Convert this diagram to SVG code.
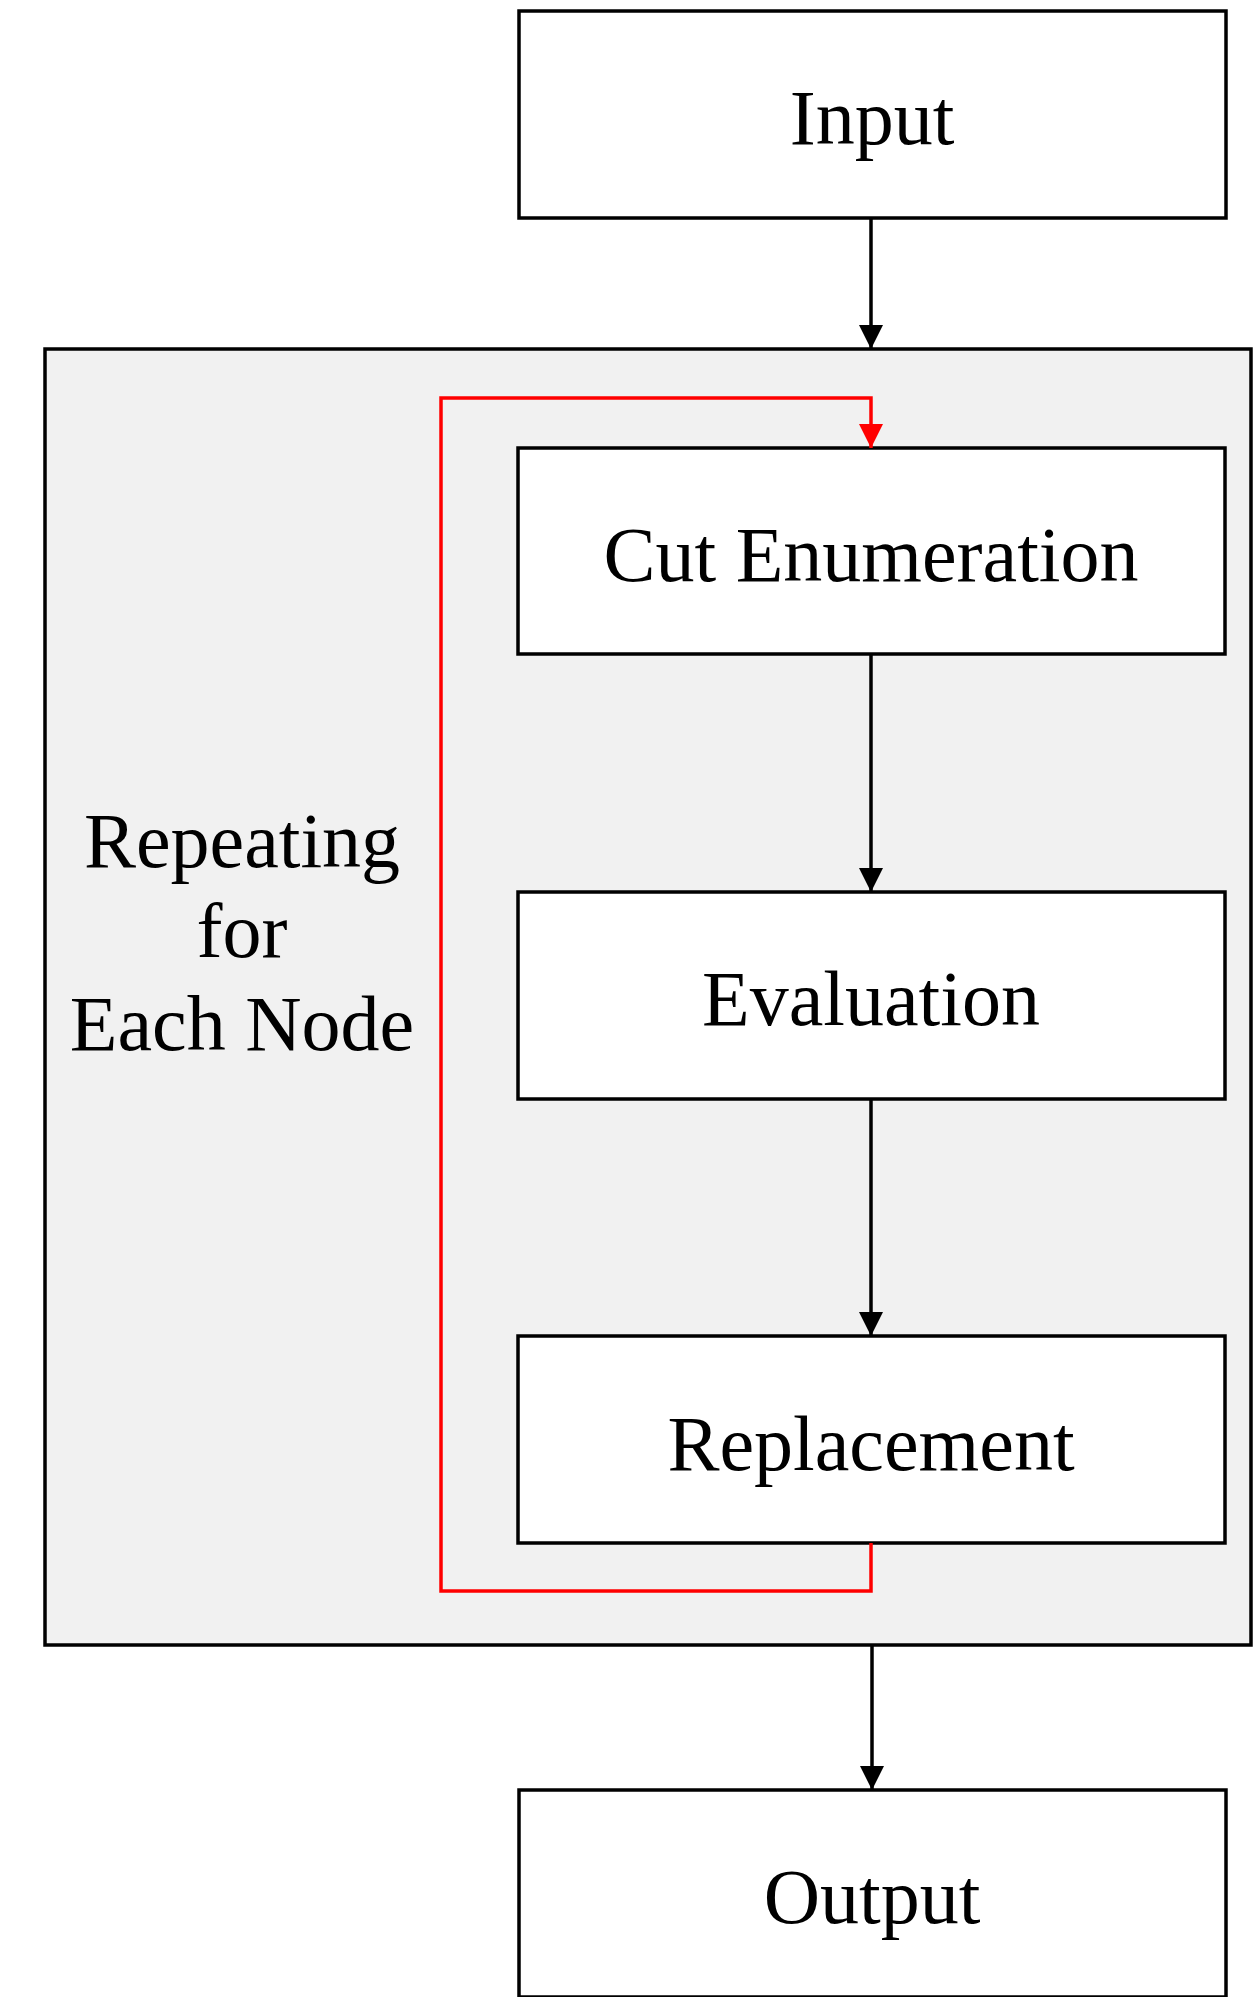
<svg xmlns="http://www.w3.org/2000/svg" width="1254" height="1997" viewBox="0 0 1254 1997">
  <style>
    .box { fill: #ffffff; stroke: #000000; stroke-width: 3.5; }
    .group { fill: #f1f1f1; stroke: #000000; stroke-width: 3.5; }
    .label { font-family: "Liberation Serif", "Times New Roman", serif; font-size: 78px; fill: #000000; text-anchor: middle; }
    .edge { fill: none; stroke: #000000; stroke-width: 3.5; }
    .loop { fill: none; stroke: #ff0000; stroke-width: 3.5; }
  </style>
  <defs>
    <marker id="arrow-black" viewBox="0 0 24 24" refX="24" refY="12" markerWidth="24" markerHeight="24" markerUnits="userSpaceOnUse" orient="auto">
      <path d="M0,0 L24,12 L0,24 z" fill="#000000"/>
    </marker>
    <marker id="arrow-red" viewBox="0 0 24 24" refX="24" refY="12" markerWidth="24" markerHeight="24" markerUnits="userSpaceOnUse" orient="auto">
      <path d="M0,0 L24,12 L0,24 z" fill="#ff0000"/>
    </marker>
  </defs>

  <rect width="1254" height="1997" fill="#ffffff"/>

  <!-- Loop container -->
  <g id="loop-group">
    <rect class="group" x="45" y="349" width="1206" height="1296"/>
    <text class="label" x="242" y="867">Repeating</text>
    <text class="label" x="242" y="957">for</text>
    <text class="label" x="242" y="1050">Each Node</text>
  </g>

  <g id="node-input">
    <rect class="box" x="519" y="11" width="707" height="207"/>
    <text class="label" x="872" y="144">Input</text>
  </g>

  <g id="node-cut-enumeration">
    <rect class="box" x="518" y="448" width="707" height="206"/>
    <text class="label" x="871" y="581">Cut Enumeration</text>
  </g>

  <g id="node-evaluation">
    <rect class="box" x="518" y="892" width="707" height="207"/>
    <text class="label" x="871" y="1025">Evaluation</text>
  </g>

  <g id="node-replacement">
    <rect class="box" x="518" y="1336" width="707" height="207"/>
    <text class="label" x="871" y="1470">Replacement</text>
  </g>

  <g id="node-output">
    <rect class="box" x="519" y="1790" width="707" height="207"/>
    <text class="label" x="872" y="1923">Output</text>
  </g>

  <!-- Connectors -->
  <g id="connectors">
    <line class="edge" x1="871" y1="218" x2="871" y2="349" marker-end="url(#arrow-black)"/>
    <line class="edge" x1="871" y1="654" x2="871" y2="892" marker-end="url(#arrow-black)"/>
    <line class="edge" x1="871" y1="1099" x2="871" y2="1336" marker-end="url(#arrow-black)"/>
    <line class="edge" x1="872" y1="1645" x2="872" y2="1790" marker-end="url(#arrow-black)"/>
    <path class="loop" d="M871,1543 V1591 H441 V398 H871 V448" marker-end="url(#arrow-red)"/>
  </g>
</svg>
